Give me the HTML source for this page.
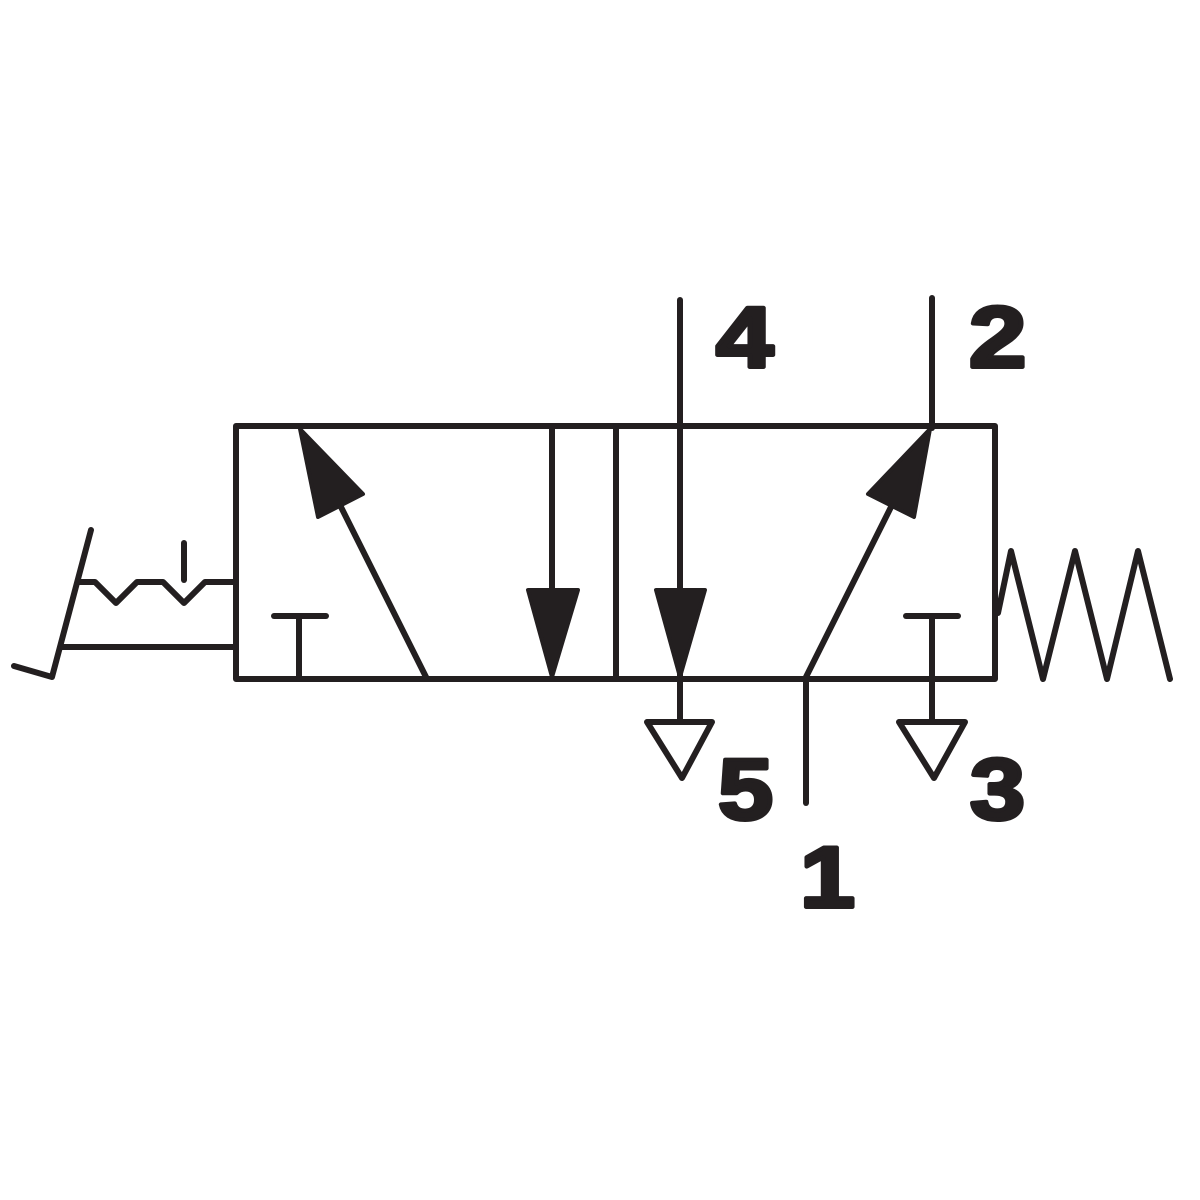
<!DOCTYPE html>
<html><head><style>html,body{margin:0;padding:0;background:#fff}svg{display:block}</style></head>
<body>
<svg width="1200" height="1200" viewBox="0 0 1200 1200" xmlns="http://www.w3.org/2000/svg">
<g fill="none" stroke="#231f20" stroke-width="6" stroke-linecap="round" stroke-linejoin="round">
<rect x="236" y="426" width="759" height="253"/>
<line x1="616" y1="426" x2="616" y2="679"/>
<polyline points="91,530 52,677 14,666"/>
<line x1="62" y1="647" x2="236" y2="647"/>
<polyline points="79,582 95,582 116,603 137,582 163,582 184,603 205,582 236,582"/>
<line x1="184" y1="543" x2="184" y2="580"/>
<line x1="426" y1="677" x2="340" y2="505"/>
<line x1="552" y1="428" x2="552" y2="592"/>
<line x1="274" y1="616" x2="326" y2="616"/>
<line x1="299" y1="616" x2="299" y2="679"/>
<line x1="680" y1="300" x2="680" y2="721"/>
<line x1="932" y1="298" x2="932" y2="428"/>
<line x1="806" y1="677" x2="892" y2="505"/>
<line x1="806" y1="679" x2="806" y2="803"/>
<line x1="906" y1="616" x2="958" y2="616"/>
<line x1="932" y1="616" x2="932" y2="721"/>
<polygon points="647,722 712,722 682,778"/>
<polygon points="899,722 965,722 934,778"/>
<polyline points="998,613 1011,551 1043,679 1075,551 1107,679 1138,551 1170,679"/>
</g>
<g fill="#231f20" stroke="#231f20" stroke-width="4" stroke-linejoin="round">
<polygon points="300,429 318,517 363,494"/>
<polygon points="528,590 578,590 552,677"/>
<polygon points="656,590 705,590 680,677"/>
<polygon points="930,429 868,494 914,517"/>
</g>
<g font-family="Liberation Sans, sans-serif" font-weight="bold" font-size="86" fill="#231f20" stroke="#231f20" stroke-width="4" stroke-linejoin="round">
<text transform="translate(716,367) scale(1.2,1)">4</text>
<text transform="translate(969,367) scale(1.2,1)">2</text>
<text transform="translate(718,819) scale(1.15,1)">5</text>
<text transform="translate(970,819) scale(1.15,1)">3</text>
<text transform="translate(800,907) scale(1.15,1)">1</text>
</g>
</svg>
</body></html>
